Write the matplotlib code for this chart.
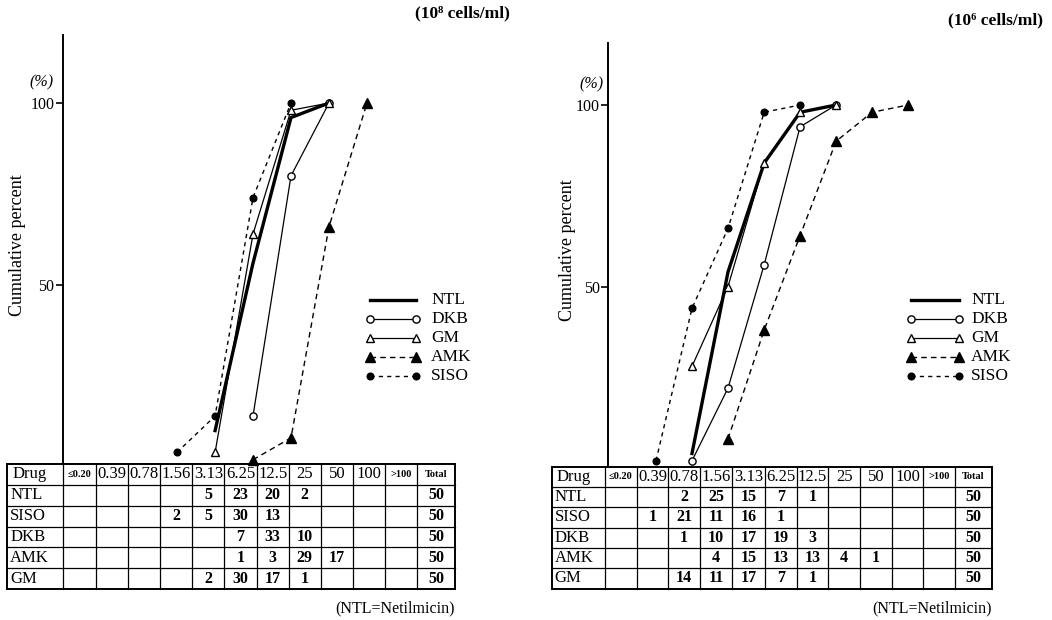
import numpy as np
import matplotlib.pyplot as plt
from matplotlib.lines import Line2D

plt.rcParams['font.family'] = ['Liberation Serif', 'DejaVu Serif']

# MIC classes (mcg/ml)
conc_labels = ["≤0.20", "0.39", "0.78", "1.56", "3.13", "6.25", "12.5", "25", "50", "100", ">100"]
conc_values = [0.20, 0.39, 0.78, 1.56, 3.13, 6.25, 12.5, 25, 50, 100, 200]
drugs = ["NTL", "SISO", "DKB", "AMK", "GM"]
legend_order = ["NTL", "DKB", "GM", "AMK", "SISO"]

# number of strains per MIC class, inoculum 10^8 cells/ml
counts_1e8 = {
    "NTL":  [0, 0, 0, 0, 5, 23, 20, 2, 0, 0, 0],
    "SISO": [0, 0, 0, 2, 5, 30, 13, 0, 0, 0, 0],
    "DKB":  [0, 0, 0, 0, 0, 7, 33, 10, 0, 0, 0],
    "AMK":  [0, 0, 0, 0, 0, 1, 3, 29, 17, 0, 0],
    "GM":   [0, 0, 0, 0, 2, 30, 17, 1, 0, 0, 0],
}
# inoculum 10^6 cells/ml
counts_1e6 = {
    "NTL":  [0, 0, 2, 25, 15, 7, 1, 0, 0, 0, 0],
    "SISO": [0, 1, 21, 11, 16, 1, 0, 0, 0, 0, 0],
    "DKB":  [0, 0, 1, 10, 17, 19, 3, 0, 0, 0, 0],
    "AMK":  [0, 0, 0, 4, 15, 13, 13, 4, 1, 0, 0],
    "GM":   [0, 0, 14, 11, 17, 7, 1, 0, 0, 0, 0],
}

styles = {
    "NTL":  dict(lw=2.4, ls='-', marker=None),
    "DKB":  dict(lw=0.9, ls='-', marker='o', ms=5.2, mfc='white', mew=1.0),
    "GM":   dict(lw=0.9, ls='-', marker='^', ms=6.2, mfc='white', mew=1.0),
    "AMK":  dict(lw=1.0, ls=(0, (4, 3)), marker='^', ms=6.8, mfc='black'),
    "SISO": dict(lw=1.0, ls=(0, (3, 3)), marker='o', ms=4.8, mfc='black'),
}

W, H = 1052, 620
fig = plt.figure(figsize=(W / 100, H / 100), dpi=100)

# full-figure overlay in pixel units for tables and loose text
over = fig.add_axes([0, 0, 1, 1])
over.set_xlim(0, W)
over.set_ylim(H, 0)
over.axis('off')


def px_axes(x0, x1, y_top, y_zero):
    return fig.add_axes([x0 / W, 1 - y_zero / H, (x1 - x0) / W, (y_zero - y_top) / H])


def draw_panel(counts, axis_x, right_px, top_px, zero_px, px_per_pct,
               ref_conc, ref_px, px_per_oct, table_top):
    ax = px_axes(axis_x, right_px, top_px, zero_px)
    ax.patch.set_alpha(0)
    ax.set_xscale('log', base=2)
    lo = np.log2(ref_conc) - (ref_px - axis_x) / px_per_oct
    hi = np.log2(ref_conc) + (right_px - ref_px) / px_per_oct
    ax.set_xlim(2 ** lo, 2 ** hi)
    ymax = (zero_px - top_px) / px_per_pct
    ax.set_ylim(0, ymax)
    for s in ['top', 'right', 'bottom']:
        ax.spines[s].set_visible(False)
    ax.spines['left'].set_linewidth(1.4)
    ax.spines['left'].set_bounds((zero_px - table_top) / px_per_pct, ymax)
    ax.set_xticks([])
    ax.set_xticks([], minor=True)
    ax.set_yticks([50, 100])
    ax.set_yticklabels(['50', '100'])
    ax.tick_params(axis='y', direction='out', length=5, width=1.2, pad=1, labelsize=11.5)

    for d in drugs:
        c = np.array(counts[d])
        cum = np.cumsum(c) / c.sum() * 100
        nz = np.nonzero(c)[0]
        sl = slice(nz[0], nz[-1] + 1)
        x = np.array(conc_values)[sl]
        ax.plot(x, cum[sl], color='black', mec='black', clip_on=False, **styles[d])
    return ax


def draw_legend(x0, y0, ln, ty, dy):
    for i, d in enumerate(legend_order):
        y = y0 + i * dy
        over.add_line(Line2D([x0, x0 + ln], [y, y], color='black', mec='black',
                             clip_on=False, **styles[d]))
        over.text(ty, y, d, fontsize=12.5, va='center', ha='left')


def draw_table(counts, edges, top, bottom):
    n_rows = len(drugs) + 1
    ys = np.linspace(top, bottom, n_rows + 1)
    for i, y in enumerate(ys):
        lw = 1.4 if i in (0, n_rows) else 0.9
        over.plot([edges[0], edges[-1]], [y, y], color='black', lw=lw)
    for j, x in enumerate(edges):
        lw = 1.4 if j in (0, len(edges) - 1) else 0.9
        over.plot([x, x], [top, bottom], color='black', lw=lw)
    hy = (ys[0] + ys[1]) / 2
    over.text(edges[0] + 5, hy, "Drug", fontsize=12, va='center', ha='left')
    for j, lab in enumerate(conc_labels):
        cx = (edges[j + 1] + edges[j + 2]) / 2
        small = lab.startswith(('≤', '>'))
        over.text(cx, hy, lab, va='center', ha='center',
                  fontsize=7.5 if small else 12,
                  fontweight='bold' if small else 'normal')
    over.text((edges[-2] + edges[-1]) / 2, hy, "Total", fontsize=7.5,
              va='center', ha='center', fontweight='bold')
    for r, d in enumerate(drugs):
        cy = (ys[r + 1] + ys[r + 2]) / 2
        over.text(edges[0] + 3, cy, d, fontsize=12, va='center', ha='left')
        for j, v in enumerate(counts[d]):
            if v:
                cx = (edges[j + 1] + edges[j + 2]) / 2
                over.text(cx, cy, str(v), fontsize=11.5, va='center', ha='center',
                          fontweight='bold')
        over.text((edges[-2] + edges[-1]) / 2, cy, str(sum(counts[d])), fontsize=11.5,
                  va='center', ha='center', fontweight='bold')


# left panel: 10^8 cells/ml
draw_panel(counts_1e8, axis_x=62.5, right_px=530, top_px=35, zero_px=467, px_per_pct=3.64,
           ref_conc=6.25, ref_px=253, px_per_oct=38, table_top=464)
draw_legend(370, 300, 46, 431, 19)
draw_table(counts_1e8, [7.3, 63.3, 95.7, 128, 160.3, 192.3, 224.3, 256.7, 288.7,
                        321, 353, 385.3, 417.3, 455], 464, 589)
over.text(455, 608, "(NTL=Netilmicin)", fontsize=11.5, ha='right', va='center')
over.text(510, 13, "(10⁸ cells/ml)", fontsize=12.5, ha='right', va='center',
          fontweight='bold')
over.text(42, 82, "(%)", fontsize=11.5, ha='center', va='center', style='italic')
over.text(18, 245, "Cumulative percent", fontsize=13, rotation=90, ha='center', va='center')

# right panel: 10^6 cells/ml
draw_panel(counts_1e6, axis_x=608, right_px=1045, top_px=43, zero_px=468, px_per_pct=3.63,
           ref_conc=0.78, ref_px=692, px_per_oct=36, table_top=466.7)
draw_legend(911, 300, 48, 971, 19)
draw_table(counts_1e6, [551.7, 605, 636.7, 668.3, 700, 732.3, 765, 796.7, 828.3,
                        860, 891.7, 923.3, 955, 991.7], 466.7, 588.5)
over.text(992, 608, "(NTL=Netilmicin)", fontsize=11.5, ha='right', va='center')
over.text(1043, 20, "(10⁶ cells/ml)", fontsize=12.5, ha='right', va='center',
          fontweight='bold')
over.text(592, 84, "(%)", fontsize=11.5, ha='center', va='center', style='italic')
over.text(567, 250, "Cumulative percent", fontsize=13, rotation=90, ha='center', va='center')

fig.savefig('out.png', dpi=100)
